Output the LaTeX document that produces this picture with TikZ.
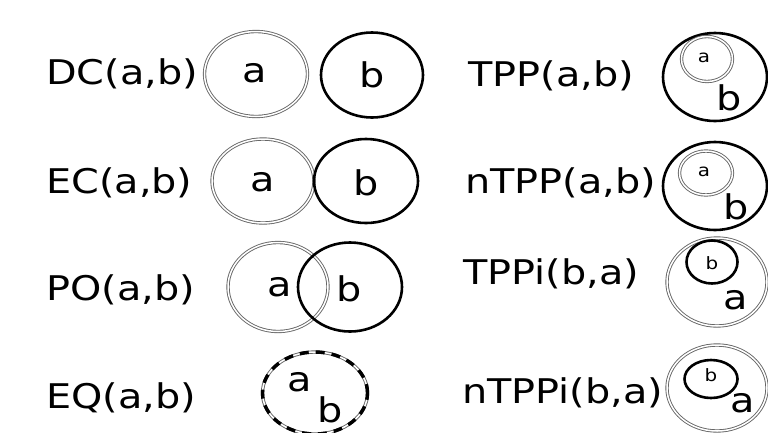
\documentclass[tikz,border=0pt]{standalone}
\usepackage{fontspec}
\setmainfont{DejaVu Sans}[FakeStretch=1.17]
\usetikzlibrary{shapes.geometric}

\begin{document}
\begin{tikzpicture}[x=1pt,y=-1pt,
        rel/.style={font=\fontsize{34}{40}\selectfont,inner sep=0pt,anchor=base west},
        big/.style={font=\fontsize{34}{40}\selectfont,inner sep=0pt},
        small/.style={font=\fontsize{17}{20}\selectfont,inner sep=0pt},
        rega/.style={ellipse,draw=black!60,double=white,double distance=1.5pt,line width=0.9pt,inner sep=0pt},
        regb/.style={ellipse,draw=black,line width=2.6pt,inner sep=0pt},
        regeq/.style={ellipse,draw=black,line width=3.4pt,dash pattern=on 9pt off 7pt,inner sep=0pt}]
    \useasboundingbox (0,0) rectangle (768,432);

    % Relation names, left column
    \node[rel] (dc) at (46,84) {DC(a,b)};
    \node[rel] (ec) at (46,193) {EC(a,b)};
    \node[rel] (po) at (46,300) {PO(a,b)};
    \node[rel] (eq) at (46,408) {EQ(a,b)};

    % Relation names, right column
    \node[rel] (tpp) at (468,86) {TPP(a,b)};
    \node[rel] (ntpp) at (465,193) {nTPP(a,b)};
    \node[rel] (tppi) at (463,284) {TPPi(b,a)};
    \node[rel] (ntppi) at (462,403) {nTPPi(b,a)};

    % DC
    \node[rega,minimum width=103,minimum height=85] (dca) at (256,74) {};
    \node[regb,minimum width=102,minimum height=85] (dcb) at (372,75) {};
    \node[big] (dcla) at (255,73) {a};
    \node[big] (dclb) at (372,75) {b};

    % EC
    \node[rega,minimum width=102,minimum height=84] (eca) at (263,181) {};
    \node[regb,minimum width=104,minimum height=84] (ecb) at (366,181) {};
    \node[big] (ecla) at (263,182) {a};
    \node[big] (eclb) at (366,183) {b};

    % PO
    \node[rega,minimum width=100,minimum height=89] (poa) at (278,287) {};
    \node[regb,minimum width=104,minimum height=89] (pob) at (350,287) {};
    \node[big] (pola) at (280,287) {a};
    \node[big] (polb) at (349,289) {b};

    % EQ
    \node[rega,minimum width=105,minimum height=82] (eqa) at (315,393) {};
    \node[regeq,minimum width=105,minimum height=82] (eqb) at (315,393) {};
    \node[big] (eqla) at (300,382) {a};
    \node[big] (eqlb) at (330,410) {b};

    % TPP
    \node[regb,minimum width=104,minimum height=88] (tppb) at (715,77) {};
    \node[rega,minimum width=51,minimum height=45] (tppa) at (707,59) {};
    \node[small] (tppla) at (704,58) {a};
    \node[big] (tpplb) at (729,98) {b};

    % nTPP
    \node[regb,minimum width=104,minimum height=88] (ntppb) at (715,186) {};
    \node[rega,minimum width=53,minimum height=44] (ntppa) at (706,173) {};
    \node[small] (ntppla) at (704,172) {a};
    \node[big] (ntpplb) at (736,207) {b};

    % TPPi
    \node[rega,minimum width=100,minimum height=88] (tppia) at (717,282) {};
    \node[regb,minimum width=51,minimum height=43] (tppib) at (712,262) {};
    \node[small] (tppilb) at (712,263) {b};
    \node[big] (tppila) at (736,300) {a};

    % nTPPi
    \node[rega,minimum width=100,minimum height=86] (ntppia) at (717,388) {};
    \node[regb,minimum width=53,minimum height=38] (ntppib) at (711,379) {};
    \node[small] (ntppilb) at (711,375) {b};
    \node[big] (ntppila) at (743,403) {a};

\end{tikzpicture}
\end{document}
